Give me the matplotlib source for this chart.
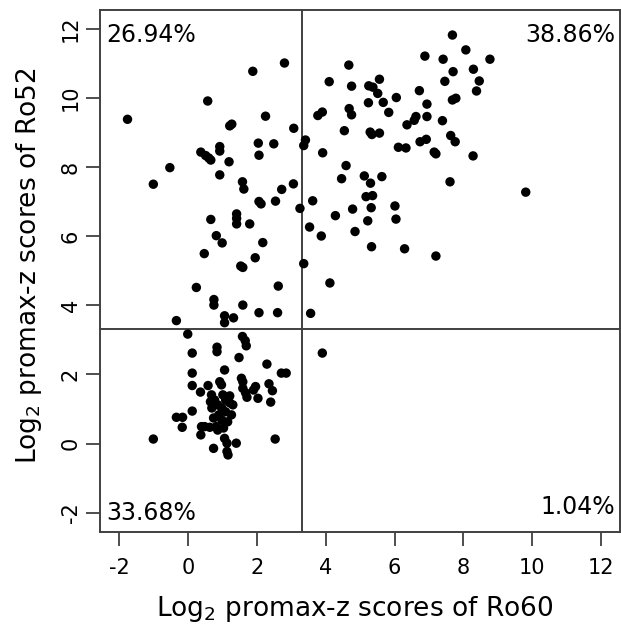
import numpy as np
import matplotlib
matplotlib.use('Agg')
import matplotlib.pyplot as plt

plt.rcParams['font.family'] = 'DejaVu Sans'
plt.rcParams['axes.unicode_minus'] = False

# log2 promax-z scores
ro60 = [
    # upper left
    -1.76, 2.80, 1.88, 0.57, 1.21, 1.27, 2.25, 3.07, 0.37, 0.51, 0.66, 0.60, 0.92,
    0.92, 1.19, 0.92, -0.53, -1.01, 1.58, 1.62, 2.04, 2.06, 2.49, 2.06, 2.12, 2.54,
    2.72, 3.06, 3.25, 1.41, 1.41, 1.41, 1.79, 0.66, 0.82, 0.99, 0.47, 1.53, 1.59,
    1.95, 2.17, 0.24, 0.75, 0.75, 1.59, 2.62, 2.06, 2.60, 1.06, 1.06, 1.32, -0.34,
    # upper right
    3.36, 3.41, 3.36, 3.56, 3.53, 3.62, 3.77, 3.90, 3.87, 3.91, 4.10, 4.12, 4.28,
    4.46, 4.54, 4.59, 4.67, 4.68, 4.75, 4.75, 4.78, 4.85, 5.12, 5.17, 5.22, 5.24,
    5.25, 5.37, 5.29, 5.34, 5.30, 5.32, 5.33, 5.36, 5.51, 5.56, 5.56, 5.63, 5.67,
    5.83, 6.01, 6.04, 6.05, 6.11, 6.33, 6.29, 6.36, 6.57, 6.62, 6.72, 6.74, 6.88,
    6.92, 6.94, 6.94, 7.15, 7.20, 7.20, 7.39, 7.41, 7.46, 7.61, 7.63, 7.68, 7.68,
    7.78, 7.70, 7.76, 8.07, 8.28, 8.29, 8.38, 8.46, 8.77, 9.81,
    # lower right
    3.90,
    # lower left
    -0.01, 1.58, 1.66, 1.69, 0.84, 0.84, 0.12, 1.48, 2.29, 1.06, 0.12, 2.71, 2.85,
    1.55, 1.59, 0.92, 0.97, 0.12, 0.58, 1.59, 1.67, 1.71, 1.96, 1.90, 2.35, 2.45,
    2.03, 2.40, 0.36, 0.68, 0.65, 0.77, 0.12, -0.34, -0.16, -0.17, 0.39, 0.48, 0.63,
    0.82, 0.37, -1.01, 0.74, 1.06, 1.13, 1.13, 1.16, 1.40, 1.26, 2.53, 1.21, 1.21,
    1.01, 1.09, 0.86, 0.98, 1.09, 0.89, 0.74, 0.98, 1.15, 0.86, 0.69, 1.30, 1.03,
]
ro52 = [
    # upper left
    9.39, 11.02, 10.78, 9.92, 9.20, 9.25, 9.48, 9.13, 8.44, 8.34, 8.21, 8.27, 8.60,
    8.47, 8.16, 7.78, 7.99, 7.51, 7.58, 7.37, 8.70, 8.35, 8.68, 7.01, 6.94, 7.02,
    7.36, 7.52, 6.81, 6.65, 6.52, 6.36, 6.36, 6.49, 6.02, 5.81, 5.50, 5.14, 5.10,
    5.38, 5.82, 4.52, 4.17, 4.01, 4.01, 4.56, 3.79, 3.79, 3.70, 3.50, 3.64, 3.56,
    # upper right
    5.21, 8.79, 8.63, 3.77, 6.27, 7.03, 9.50, 9.60, 6.01, 8.42, 10.48, 4.65, 6.60,
    7.67, 9.06, 8.05, 10.96, 9.70, 9.52, 10.35, 6.79, 6.14, 7.75, 7.15, 6.45, 9.87,
    10.36, 10.32, 9.02, 8.95, 7.54, 6.83, 5.70, 7.18, 10.14, 10.55, 8.99, 7.73, 9.88,
    9.59, 6.88, 6.50, 10.02, 8.58, 8.56, 5.64, 9.23, 9.36, 9.47, 10.22, 8.74, 11.22,
    8.81, 9.83, 9.47, 8.44, 8.39, 5.43, 9.35, 11.13, 10.49, 7.58, 8.92, 11.83, 9.95,
    10.00, 10.77, 8.74, 11.40, 8.33, 10.84, 10.21, 10.50, 11.13, 7.28,
    # lower right
    2.62,
    # lower left
    3.17, 3.10, 2.98, 2.83, 2.79, 2.66, 2.62, 2.49, 2.30, 2.13, 2.04, 2.04, 2.04,
    1.89, 1.79, 1.79, 1.70, 1.68, 1.68, 1.60, 1.47, 1.34, 1.65, 1.55, 1.73, 1.53,
    1.31, 1.20, 1.49, 1.41, 1.21, 1.26, 0.94, 0.76, 0.76, 0.47, 0.49, 0.49, 0.47,
    0.49, 0.25, 0.13, -0.14, 0.15, 0.01, -0.23, -0.33, 0.01, 0.83, 0.13, 1.38, 1.18,
    1.41, 1.26, 1.12, 1.03, 0.92, 0.83, 0.74, 0.68, 0.63, 0.39, 1.03, 1.12, 0.45,
]

cutoff = np.log2(10)  # positivity threshold on both axes
quadrant_labels = ['26.94%', '38.86%', '33.68%', '1.04%']
ticks = [-2, 0, 2, 4, 6, 8, 10, 12]

fig = plt.figure(figsize=(6.21, 6.31), dpi=100)
ax = fig.add_axes([0.161, 0.157, 0.838, 0.8274])

ax.scatter(ro60, ro52, s=46, c='black', edgecolors='none', zorder=3)
ax.axvline(cutoff, color='#404040', lw=1.4, zorder=2)
ax.axhline(cutoff, color='#404040', lw=1.4, zorder=2)

ax.set_xlim(-2.56, 12.56)
ax.set_ylim(-2.56, 12.56)
ax.set_xticks(ticks)
ax.set_yticks(ticks)
ax.set_xticklabels([str(t) for t in ticks])
ax.set_yticklabels([str(t) for t in ticks], rotation=90, va='center')
ax.tick_params(axis='both', length=10, width=1.3, color='#404040', labelsize=15)
ax.tick_params(axis='x', pad=9)
ax.tick_params(axis='y', pad=4)
for sp in ax.spines.values():
    sp.set_color('#404040')
    sp.set_linewidth(1.4)

ax.set_xlabel(r'Log$_2$ promax-z scores of Ro60', fontsize=19)
ax.set_ylabel(r'Log$_2$ promax-z scores of Ro52', fontsize=19)
ax.xaxis.set_label_coords(0.49, -0.118)
ax.yaxis.set_label_coords(-0.107, 0.51)

ax.text(-2.38, 11.83, quadrant_labels[0], fontsize=17, ha='left', va='center')
ax.text(12.4, 11.83, quadrant_labels[1], fontsize=17, ha='right', va='center')
ax.text(-2.38, -2.02, quadrant_labels[2], fontsize=17, ha='left', va='center')
ax.text(12.4, -1.84, quadrant_labels[3], fontsize=17, ha='right', va='center')

fig.savefig('out.png', dpi=100)
